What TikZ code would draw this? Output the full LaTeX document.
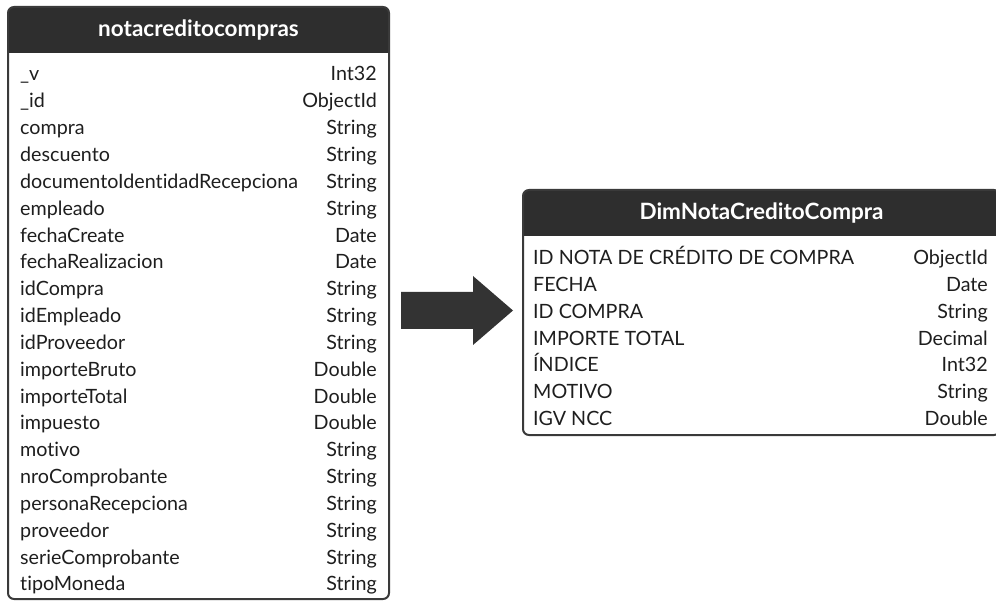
\documentclass[tikz,border=0pt]{standalone}
\usepackage{fontspec}
\setmainfont{Lato}[Ligatures=NoCommon]
\begin{document}
\begin{tikzpicture}[x=1pt,y=-1pt,
  frame/.style={draw=tblline,line width=2pt,rounded corners=6pt},
  headfill/.style={fill=tblhead},
  headtext/.style={text=white,font=\fontsize{22.5}{22.5}\selectfont\bfseries,anchor=center,inner sep=0pt},
  fieldname/.style={anchor=base west,inner sep=0pt,text=tbltext,font=\fontsize{19.7}{19.7}\selectfont},
  fieldtype/.style={anchor=base east,inner sep=0pt,text=tbltext,font=\fontsize{19.7}{19.7}\selectfont}]
\definecolor{tblline}{HTML}{3A3A3A}
\definecolor{tblhead}{HTML}{2E2E2E}
\definecolor{tbltext}{HTML}{1E1E1E}
\definecolor{arrowfill}{HTML}{333333}
\useasboundingbox (0,0) rectangle (996,601);
\clip (0,0) rectangle (996,601);

% ---- source collection: notacreditocompras ----
\fill[headfill,rounded corners=6pt] (8,7) rectangle (389,53);
\fill[headfill] (8,30) rectangle (389,53);
\draw[frame] (8,7) rectangle (389,599);
\node[headtext] (srchead) at (198.5,30) {notacreditocompras};
\foreach \n/\t [count=\i from 0] in {%
  \_v/Int32, \_id/ObjectId, compra/String, descuento/String,
  documentoIdentidadRecepciona/String, empleado/String, fechaCreate/Date,
  fechaRealizacion/Date, idCompra/String, idEmpleado/String,
  idProveedor/String, importeBruto/Double, importeTotal/Double,
  impuesto/Double, motivo/String, nroComprobante/String,
  personaRecepciona/String, proveedor/String, serieComprobante/String,
  tipoMoneda/String}{
  \node[fieldname] (srcn\i) at (20,{81+26.84*\i}) {\n};
  \node[fieldtype] (srct\i) at (377,{81+26.84*\i}) {\t};
}

% ---- transformation arrow ----
\fill[arrowfill] (401,292) -- (473,292) -- (473,276) -- (513,310.5)
  -- (473,345) -- (473,329) -- (401,329) -- cycle;

% ---- target dimension: DimNotaCreditoCompra ----
\fill[headfill,rounded corners=6pt] (523,190) rectangle (1000,236);
\fill[headfill] (523,213) rectangle (1000,236);
\draw[frame] (523,190) rectangle (1000,435);
\node[headtext] (dimhead) at (761.5,213) {DimNotaCreditoCompra};
\foreach \n/\t [count=\i from 0] in {%
  ID NOTA DE CRÉDITO DE COMPRA/ObjectId, FECHA/Date, ID COMPRA/String,
  IMPORTE TOTAL/Decimal, ÍNDICE/Int32, MOTIVO/String, IGV NCC/Double}{
  \node[fieldname] (dimn\i) at (533,{265+26.67*\i}) {\n};
  \node[fieldtype] (dimt\i) at (988,{265+26.67*\i}) {\t};
}
\end{tikzpicture}
\end{document}
